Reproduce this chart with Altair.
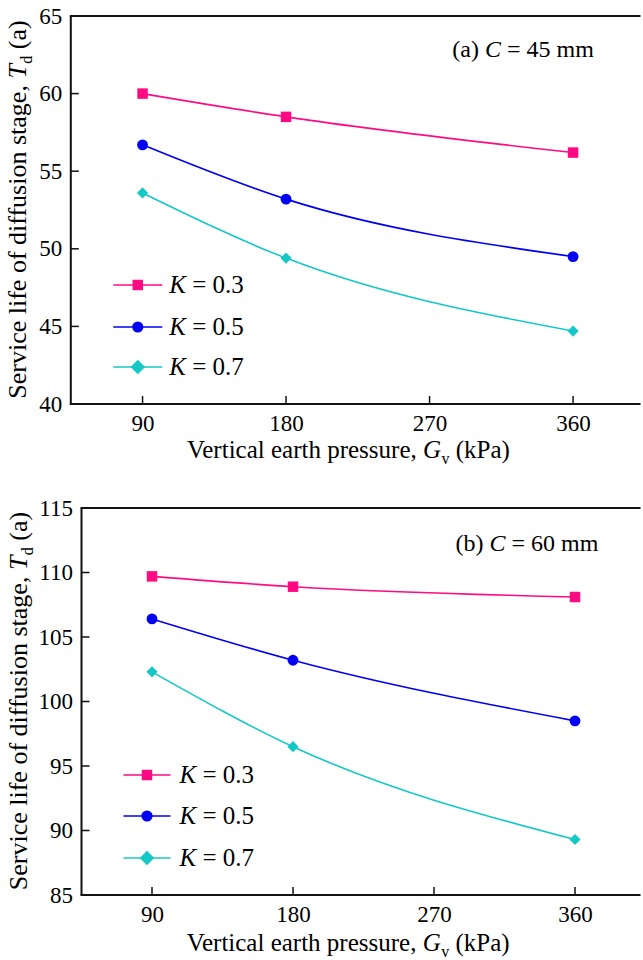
import altair as alt
import pandas as pd

# ---------------- data ----------------
G_V = [90, 180, 360]                      # vertical earth pressure (kPa)
K_VALUES = ["0.3", "0.5", "0.7"]
# panel (a) C = 45 mm
A_K03 = [60.0, 58.5, 56.2]
A_K05 = [56.7, 53.2, 49.5]
A_K07 = [53.6, 49.4, 44.7]
# panel (b) C = 60 mm
B_K03 = [109.7, 108.9, 108.1]
B_K05 = [106.4, 103.2, 98.5]
B_K07 = [102.3, 96.5, 89.3]
X_TICKS = [90, 180, 270, 360]
A_Y_TICKS = [40, 45, 50, 55, 60, 65]
B_Y_TICKS = [85, 90, 95, 100, 105, 110, 115]
X_LO = 45

# ---------------- style ----------------
COLORS = ["#FF0A82", "#0000F2", "#14C8C8"]
SHAPES = ["square", "circle", "diamond"]
SIZES = [110, 125, 210]
FONT = "Liberation Serif"
AXC = "#111111"
TICK_FS = 23
TITLE_FS = 25
YTITLE_FS = 26
SUB_FS = 16
ANN_FS = 24
LEG_FS = 25

REG = {' ': 250, ',': 250, '.': 250, '(': 333, ')': 333, '=': 564, 'C': 667, 'G': 722,
       'K': 722, 'P': 556, 'S': 556, 'T': 611, 'V': 722, 'a': 444, 'b': 500, 'c': 444,
       'd': 500, 'e': 444, 'f': 333, 'g': 500, 'h': 500, 'i': 278, 'k': 500, 'l': 278,
       'm': 778, 'n': 500, 'o': 500, 'p': 500, 'r': 333, 's': 389, 't': 278, 'u': 500,
       'v': 500}
ITAL = {'C': 667, 'G': 722, 'K': 667, 'T': 556}


def tw(s, size, italic=False):
    tbl = ITAL if italic else REG
    return sum(tbl.get(c, 500) for c in s) * size / 1000.0


def txt(s, x, y, size, italic=False, align="left", baseline="alphabetic", angle=0, dx=0, dy=0):
    return alt.Chart(pd.DataFrame({"s": [s]})).mark_text(
        font=FONT, fontSize=size, fontStyle="italic" if italic else "normal",
        align=align, baseline=baseline, angle=angle, dx=dx, dy=dy, color="black"
    ).encode(text="s:N", x=alt.value(x), y=alt.value(y))


def vrule(x1, x2, y1, y2, color=AXC, width=2.0):
    return alt.Chart(pd.DataFrame({"a": [0]})).mark_rule(color=color, strokeWidth=width).encode(
        x=alt.value(x1), x2=alt.value(x2), y=alt.value(y1), y2=alt.value(y2))


def panel(tag, cval, series, ydom, yticks, W, H, shift, x_hi, ytx, xtc, xtb, annx, annb, leg):
    # shift: pixels by which the y axis sits left of the plot-area origin
    rows = []
    for k, vals in zip(K_VALUES, series):
        for g, v in zip(G_V, vals):
            rows.append({"G": g, "T": v, "K": k})
    df = pd.DataFrame(rows)
    full_w = W + shift
    x_lo = X_LO + shift / full_w * (x_hi - X_LO)
    xs = alt.Scale(domain=[x_lo, x_hi], nice=False, zero=False)
    ys = alt.Scale(domain=ydom, nice=False, zero=False)
    xaxis = alt.Axis(values=X_TICKS, format="d", labelFont=FONT, labelFontSize=TICK_FS,
                     labelColor="black", ticks=False, tickSize=0, grid=False, title=None,
                     labelPadding=8, domain=False, labelFlush=False)
    yaxis = alt.Axis(values=yticks, format="d", labelFont=FONT, labelFontSize=TICK_FS,
                     labelColor="black", ticks=False, tickSize=0, grid=False, title=None,
                     labelPadding=9, domain=False, labelFlush=False, offset=shift)
    X = alt.X("G:Q", scale=xs, axis=xaxis)
    Y = alt.Y("T:Q", scale=ys, axis=yaxis)
    color = alt.Color("K:N", scale=alt.Scale(domain=K_VALUES, range=COLORS), legend=None)
    shape = alt.Shape("K:N", scale=alt.Scale(domain=K_VALUES, range=SHAPES), legend=None)
    size = alt.Size("K:N", scale=alt.Scale(domain=K_VALUES, range=SIZES), legend=None)

    base = alt.Chart(df)
    lines = base.mark_line(interpolate="monotone", strokeWidth=1.6).encode(x=X, y=Y, color=color)
    points = base.mark_point(filled=True, opacity=1).encode(x=X, y=Y, color=color, shape=shape, size=size)

    xt = alt.Chart(pd.DataFrame({"G": X_TICKS})).mark_rule(color=AXC, strokeWidth=1.5).encode(
        x=X, y=alt.value(H - 8), y2=alt.value(H))
    yt = alt.Chart(pd.DataFrame({"T": yticks})).mark_rule(color=AXC, strokeWidth=1.5).encode(
        y=Y, x=alt.value(-shift), x2=alt.value(-shift + 8))
    frame = [
        vrule(-shift - 1, W, 0, 0),        # top border
        vrule(-shift - 1, W, H, H),        # bottom axis line
        vrule(-shift, -shift, 0, H),       # left axis line
    ]

    layers = [lines, points, xt, yt] + frame

    L0 = -shift  # x of the left axis line

    # y-axis title (rotated)
    p1 = "Service life of diffusion stage,"
    sp = tw(" ", YTITLE_FS)
    w1 = tw(p1, YTITLE_FS)
    wT = tw("T", YTITLE_FS, True)
    wd = tw("d", SUB_FS)
    wa = tw("(a)", YTITLE_FS)
    L = w1 + sp + wT + wd + sp + wa
    yT = H / 2 + L / 2 - w1 - sp
    layers += [
        txt(p1, ytx, yT, YTITLE_FS, align="right", angle=270, dx=-sp),
        txt("T", ytx, yT, YTITLE_FS, italic=True, angle=270),
        txt("d", ytx, yT, SUB_FS, angle=270, dx=wT + 0.5, dy=6),
        txt("(a)", ytx, yT, YTITLE_FS, angle=270, dx=wT + wd + sp + 0.5),
    ]

    # x-axis title
    q1 = "Vertical earth pressure,"
    xsp = tw(" ", TITLE_FS)
    v1 = tw(q1, TITLE_FS)
    wG = tw("G", TITLE_FS, True)
    wv = tw("v", SUB_FS)
    wk = tw("(kPa)", TITLE_FS)
    Lx = v1 + xsp + wG + wv + xsp + wk
    gx = L0 + xtc - Lx / 2 + v1 + xsp
    layers += [
        txt(q1, gx, xtb, TITLE_FS, align="right", dx=-xsp),
        txt("G", gx, xtb, TITLE_FS, italic=True),
        txt("v", gx, xtb, SUB_FS, dx=wG + 0.5, dy=6),
        txt("(kPa)", gx, xtb, TITLE_FS, dx=wG + wv + xsp + 0.5),
    ]

    # annotation
    asp = tw(" ", ANN_FS)
    wtag = tw(tag, ANN_FS)
    wC = tw("C", ANN_FS, True)
    ax0 = L0 + annx
    layers += [
        txt(tag, ax0, annb, ANN_FS),
        txt("C", ax0 + wtag + asp, annb, ANN_FS, italic=True),
        txt("= " + cval + " mm", ax0 + wtag + asp + wC + asp, annb, ANN_FS),
    ]

    # legend
    lx1, lx2, sx, tx, lys = leg
    wK = tw("K", LEG_FS, True)
    lsp = tw(" ", LEG_FS)
    for i, k in enumerate(K_VALUES):
        d1 = pd.DataFrame({"k": [k]})
        layers.append(alt.Chart(d1).mark_rule(color=COLORS[i], strokeWidth=1.6).encode(
            x=alt.value(L0 + lx1), x2=alt.value(L0 + lx2), y=alt.value(lys[i])))
        layers.append(alt.Chart(d1).mark_point(filled=True, opacity=1, shape=SHAPES[i],
                                               size=SIZES[i], color=COLORS[i]).encode(
            x=alt.value(L0 + sx), y=alt.value(lys[i])))
        layers.append(txt("K", L0 + tx, lys[i] + 8, LEG_FS, italic=True))
        layers.append(txt("= " + k, L0 + tx + wK + lsp, lys[i] + 8, LEG_FS))

    return alt.layer(*layers).properties(width=W, height=H)


top = panel("(a)", "45", [A_K03, A_K05, A_K07], [40, 65], A_Y_TICKS,
            559, 388, 10.7, 402.3, -55.3, 276, 388 + 54, 381.5, 41,
            (42.5, 91.5, 67, 98.5, [269, 311, 351]))
bottom = panel("(b)", "60", [B_K03, B_K05, B_K07], [85, 115], B_Y_TICKS,
               559, 387, 0, 401.8, -54.7, 265, 387 + 56, 374, 43.4,
               (42, 89, 65.5, 98, [267, 308, 350]))

chart = alt.vconcat(top, bottom, spacing=30).configure_view(stroke=None).properties(
    padding={"left": 4.5, "top": 5, "right": 0, "bottom": 0}, background="white")

chart.save("out.html", embed_options={"renderer": "svg", "actions": False})
